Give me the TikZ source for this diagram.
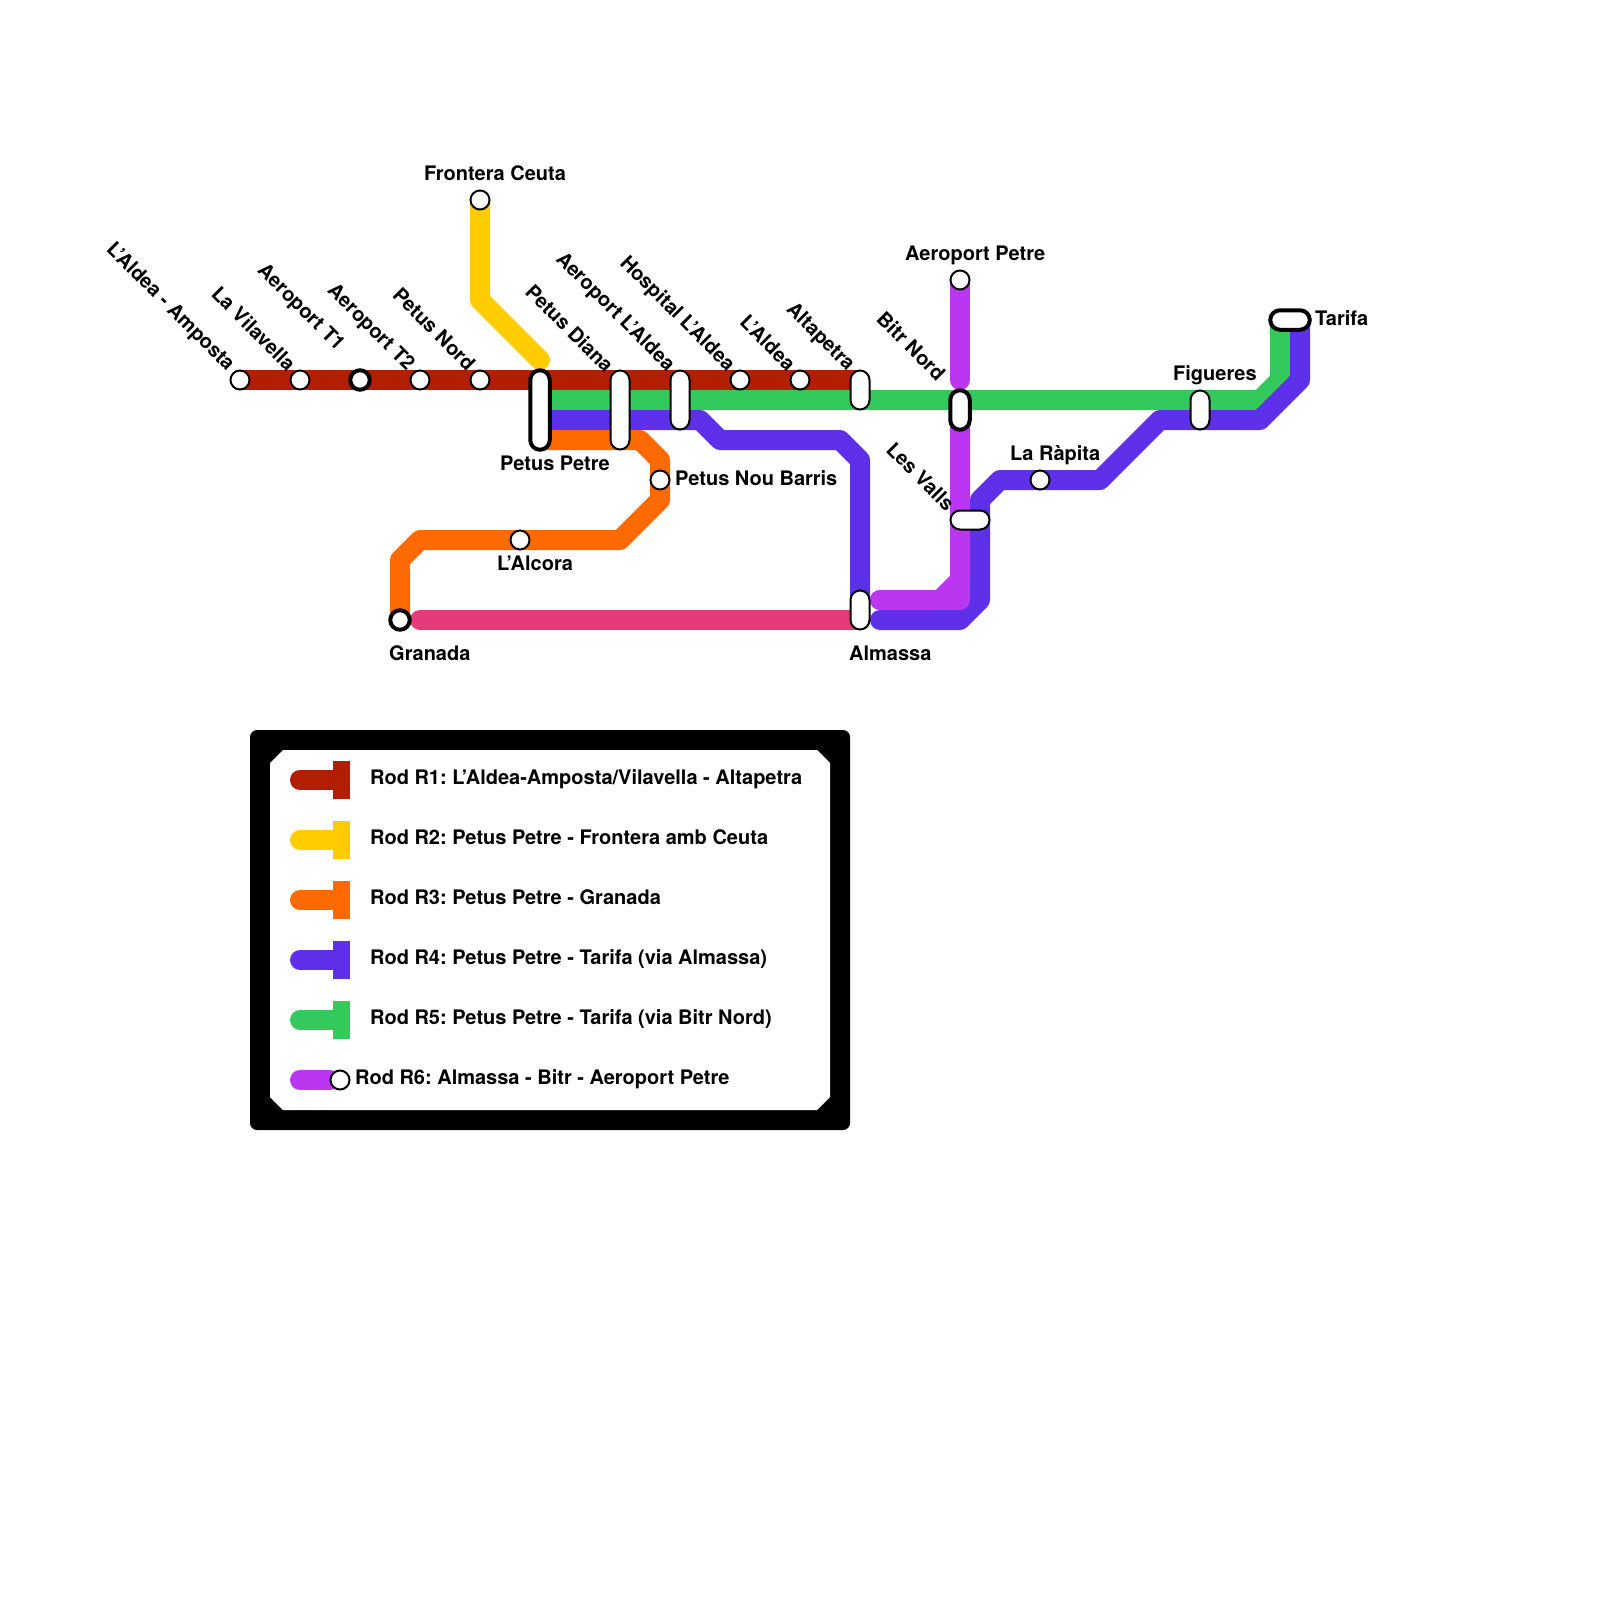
\documentclass[tikz,border=0pt]{standalone}
\usepackage{fontspec}
\setmainfont{TeX Gyre Heros}
\usetikzlibrary{shapes.misc}
\pgfdeclarelayer{lines}
\pgfsetlayers{lines,main}
\definecolor{rone}{HTML}{B21E00}
\definecolor{rtwo}{HTML}{FFCC00}
\definecolor{rthree}{HTML}{FF6A00}
\definecolor{rfour}{HTML}{5F30EA}
\definecolor{rfive}{HTML}{33C95C}
\definecolor{rsix}{HTML}{BB36F0}
\definecolor{rpink}{HTML}{E63B7A}
\tikzset{
  track/.style={line width=20pt,line join=round},
  capround/.style={line cap=round},
  stop/.style={circle,draw=black,fill=white,line width=2pt,minimum size=19pt,inner sep=0pt},
  bigstop/.style={stop,line width=4pt,minimum size=19.5pt},
  capsule/.style={rounded rectangle,draw=black,fill=white,line width=2pt,minimum height=19pt,inner sep=0pt},
  bigcapsule/.style={capsule,line width=4pt,minimum height=19.5pt},
  lab/.style={font=\frenchspacing\bfseries\fontsize{20}{22}\selectfont,inner sep=0pt,anchor=base west,text=black},
  rlab/.style={font=\frenchspacing\bfseries\fontsize{20}{22}\selectfont,inner sep=0pt,anchor=base east,rotate=-45,text=black},
  keybar/.style={minimum width=17pt,minimum height=38pt,inner sep=0pt},
}
\begin{document}
\begin{tikzpicture}[x=1pt,y=-1pt]
\useasboundingbox (0,0) rectangle (1600,1600);
% stations
\node[stop] (aa) at (240,380) {};
\node[stop] (vil) at (300,380) {};
\node[bigstop] (t1) at (360,380) {};
\node[stop] (t2) at (420,380) {};
\node[stop] (pn) at (480,380) {};
\node[bigcapsule,minimum width=79.5pt,rotate=90] (pp) at (540,410) {};
\node[capsule,minimum width=79pt,rotate=90] (pd) at (620,410) {};
\node[capsule,minimum width=59pt,rotate=90] (al) at (680,400) {};
\node[stop] (hos) at (740,380) {};
\node[stop] (lald) at (800,380) {};
\node[capsule,minimum width=39pt,rotate=90] (alt) at (860,390) {};
\node[bigcapsule,minimum width=39.5pt,rotate=90] (bn) at (960,410) {};
\node[stop] (ap) at (960,280) {};
\node[capsule,minimum width=39pt] (lv) at (970,520) {};
\node[stop] (rap) at (1040,480) {};
\node[capsule,minimum width=39pt,rotate=90] (fig) at (1200,410) {};
\node[bigcapsule,minimum width=39.5pt] (tar) at (1290,320) {};
\node[stop] (fc) at (480,200) {};
\node[stop] (nb) at (660,480) {};
\node[stop] (alc) at (520,540) {};
\node[bigstop] (gr) at (400,620) {};
\node[capsule,minimum width=39pt,rotate=90] (alm) at (860,610) {};
% labels
\node[rlab] (laa) at (227,372) {L’Aldea - Amposta};
\node[rlab] (lvil) at (287,372) {La Vilavella};
\node[rlab] (lt1) at (337,352) {Aeroport T1};
\node[rlab] (lt2) at (407,372) {Aeroport T2};
\node[rlab] (lpn) at (467,372) {Petus Nord};
\node[rlab] (lpd) at (605,374) {Petus Diana};
\node[rlab] (lalp) at (667,372) {Aeroport L’Aldea};
\node[rlab] (lhos) at (727,372) {Hospital L’Aldea};
\node[rlab] (llald) at (787,372) {L’Aldea};
\node[rlab] (lalt) at (847,372) {Altapetra};
\node[rlab] (lbn) at (937,382) {Bitr Nord};
\node[rlab] (llv) at (946,512) {Les Valls};
\node[lab] (lfc) at (424,180) {Frontera Ceuta};
\node[lab] (lap) at (905,260) {Aeroport Petre};
\node[lab] (lpp) at (500,470) {Petus Petre};
\node[lab] (lnb) at (675,485) {Petus Nou Barris};
\node[lab] (lalc) at (497,570) {L’Alcora};
\node[lab] (lgr) at (389,660) {Granada};
\node[lab] (lalm) at (849,660) {Almassa};
\node[lab] (lrap) at (1010,460) {La Ràpita};
\node[lab] (lfig) at (1173,380) {Figueres};
\node[lab] (ltar) at (1315,325) {Tarifa};
% bend points
\coordinate (y1) at (480,300);
\coordinate (y2) at (540,360);
\coordinate (r2) at (860,380);
\coordinate (o0) at (540,440);
\coordinate (o1) at (640,440);
\coordinate (o2) at (660,460);
\coordinate (o3) at (660,500);
\coordinate (o4) at (620,540);
\coordinate (o5) at (420,540);
\coordinate (o6) at (400,560);
\coordinate (p0) at (540,420);
\coordinate (p1) at (700,420);
\coordinate (p2) at (720,440);
\coordinate (p3) at (840,440);
\coordinate (p4) at (860,460);
\coordinate (p5) at (860,600);
\coordinate (p6) at (880,620);
\coordinate (p7) at (960,620);
\coordinate (p8) at (980,600);
\coordinate (p9) at (980,500);
\coordinate (p10) at (1000,480);
\coordinate (p11) at (1100,480);
\coordinate (p12) at (1160,420);
\coordinate (p13) at (1260,420);
\coordinate (p14) at (1300,380);
\coordinate (p15) at (1300,320);
\coordinate (g0) at (540,400);
\coordinate (g1) at (1260,400);
\coordinate (g2) at (1280,380);
\coordinate (g3) at (1280,320);
\coordinate (m1) at (960,380);
\coordinate (m2) at (960,420);
\coordinate (m3) at (960,600);
\coordinate (m4) at (880,600);
\coordinate (m5) at (940,600);
\coordinate (m6) at (960,580);
\coordinate (k0) at (420,620);
\coordinate (k1) at (860,620);
% legend
\node[rounded corners=7pt,fill=black,minimum width=600pt,minimum height=400pt,inner sep=0pt] (box) at (550,930) {};
\fill[white] (283,750) -- (817,750) -- (830,763) -- (830,1097) -- (817,1110) -- (283,1110) -- (270,1097) -- (270,763) -- cycle;
\foreach \nm/\col/\yy in {a/rone/780,b/rtwo/840,c/rthree/900,d/rfour/960,e/rfive/1020}{
  \node[keybar,fill=\col] (bar\nm) at (341.5,\yy) {};
  \coordinate (start\nm) at (300,\yy);
  \draw[track,capround,draw=\col] (start\nm) -- (bar\nm.west);
}
\coordinate (startf) at (300,1080);
\coordinate (endf) at (330,1080);
\draw[track,capround,draw=rsix] (startf) -- (endf);
\node[stop] (barf) at (340,1080) {};
\node[lab] (ta) at (370,784) {Rod R1: L’Aldea-Amposta/Vilavella - Altapetra};
\node[lab] (tb) at (370,844) {Rod R2: Petus Petre - Frontera amb Ceuta};
\node[lab] (tc) at (370,904) {Rod R3: Petus Petre - Granada};
\node[lab] (td) at (370,964) {Rod R4: Petus Petre - Tarifa (via Almassa)};
\node[lab] (te) at (370,1024) {Rod R5: Petus Petre - Tarifa (via Bitr Nord)};
\node[lab] (tf) at (355,1084) {Rod R6: Almassa - Bitr - Aeroport Petre};
% tracks
\begin{pgfonlayer}{lines}
\fill[white] (0,0) rectangle (1600,1600);
\draw[track,draw=rtwo,capround] (fc.center) -- (y1) -- (y2);
\draw[track,draw=rone] (aa.center) -- (r2);
\draw[track,draw=rfive] (g0) -- (g1) -- (g2) -- (g3);
\draw[track,draw=rfour] (p0) -- (p1) -- (p2) -- (p3) -- (p4) -- (p5);
\draw[track,draw=rfour,capround] (p6) -- (p7) -- (p8) -- (p9) -- (p10) -- (p11) -- (p12) -- (p13) -- (p14) -- (p15);
\draw[track,draw=rthree] (o0) -- (o1) -- (o2) -- (o3) -- (o4) -- (o5) -- (o6) -- (gr.center);
\draw[track,draw=rpink,capround] (k0) -- (k1);
\draw[track,draw=rsix,capround] (ap.center) -- (m1);
\draw[track,draw=rsix,capround] (m2) -- (m3) -- (m4);
\draw[track,draw=rsix,capround] (m2) -- (m6) -- (m5) -- (m4);
\end{pgfonlayer}
\end{tikzpicture}
\end{document}
